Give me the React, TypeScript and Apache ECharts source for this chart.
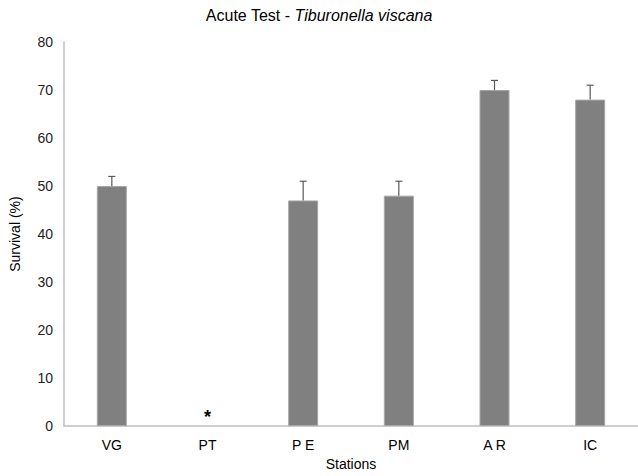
import React, { useEffect, useRef } from "react";
import * as echarts from "echarts";

const stations = ["VG", "PT", "P E", "PM", "A R", "IC"];
const survival = [50, 0, 47, 48, 70, 68];
const errorUpper = [52, null, 51, 51, 72, 71];
const yTicks = [0, 10, 20, 30, 40, 50, 60, 70, 80];

export default function App() {
  const ref = useRef<HTMLDivElement>(null);
  useEffect(() => {
    const chart = echarts.init(ref.current!, null, { renderer: "svg" });
    const errData = stations
      .map((_, i) => (errorUpper[i] == null ? null : [i, survival[i], errorUpper[i]]))
      .filter((d) => d !== null);
    chart.setOption({
      animation: false,
      textStyle: { fontFamily: "Liberation Sans, Arial, sans-serif" },
      title: {
        left: "center",
        top: 2,
        text: "{n|Acute Test - }{i|Tiburonella viscana}",
        textStyle: {
          fontWeight: "normal",
          rich: {
            n: { fontSize: 16, color: "#000", fontWeight: "normal", fontFamily: "Liberation Sans" },
            i: { fontSize: 16, color: "#000", fontWeight: "normal", fontStyle: "italic", fontFamily: "Liberation Sans" },
          },
        },
      },
      grid: { left: 62, right: -2, top: 42, bottom: 44, containLabel: false },
      xAxis: {
        type: "category",
        data: stations,
        name: "Stations",
        nameLocation: "middle",
        nameGap: 30,
        nameTextStyle: { fontSize: 14, color: "#000" },
        axisLine: { lineStyle: { color: "#bfbfbf", width: 1.5 } },
        axisTick: { show: false },
        axisLabel: { fontSize: 14, color: "#000", margin: 12 },
      },
      yAxis: {
        type: "value",
        min: yTicks[0],
        max: yTicks[yTicks.length - 1],
        interval: 10,
        name: "Survival (%)",
        nameLocation: "middle",
        nameGap: 42,
        nameTextStyle: { fontSize: 14, color: "#000" },
        axisLine: { show: true, lineStyle: { color: "#bfbfbf", width: 1.5 } },
        axisTick: { show: false },
        splitLine: { show: false },
        axisLabel: { fontSize: 14, color: "#222", margin: 11 },
      },
      series: [
        {
          type: "bar",
          data: survival.map((v, i) => ({
            value: v,
            itemStyle: i === 1 ? { borderWidth: 0, color: "transparent" } : undefined,
            label:
              i === 1
                ? { show: true, position: "top", formatter: "*", fontSize: 18, fontWeight: "bold", color: "#000", distance: 0 }
                : { show: false },
          })),
          barWidth: 30,
          itemStyle: { color: "#808080", borderColor: "#a6a6a6", borderWidth: 1 },
        },
        {
          type: "custom",
          data: errData,
          z: 3,
          renderItem: (params: any, api: any) => {
            const i = api.value(0);
            const p0 = api.coord([i, api.value(1)]);
            const p1 = api.coord([i, api.value(2)]);
            const cap = 3.5;
            const style = { stroke: "#595959", lineWidth: 1.2 };
            return {
              type: "group",
              children: [
                { type: "line", shape: { x1: p0[0], y1: p0[1], x2: p1[0], y2: p1[1] }, style },
                { type: "line", shape: { x1: p1[0] - cap, y1: p1[1], x2: p1[0] + cap, y2: p1[1] }, style },
              ],
            };
          },
        },
      ],
    });
    return () => chart.dispose();
  }, []);
  return <div ref={ref} style={{ width: 638, height: 476, position: "absolute", left: 0, top: 0 }} />;
}
